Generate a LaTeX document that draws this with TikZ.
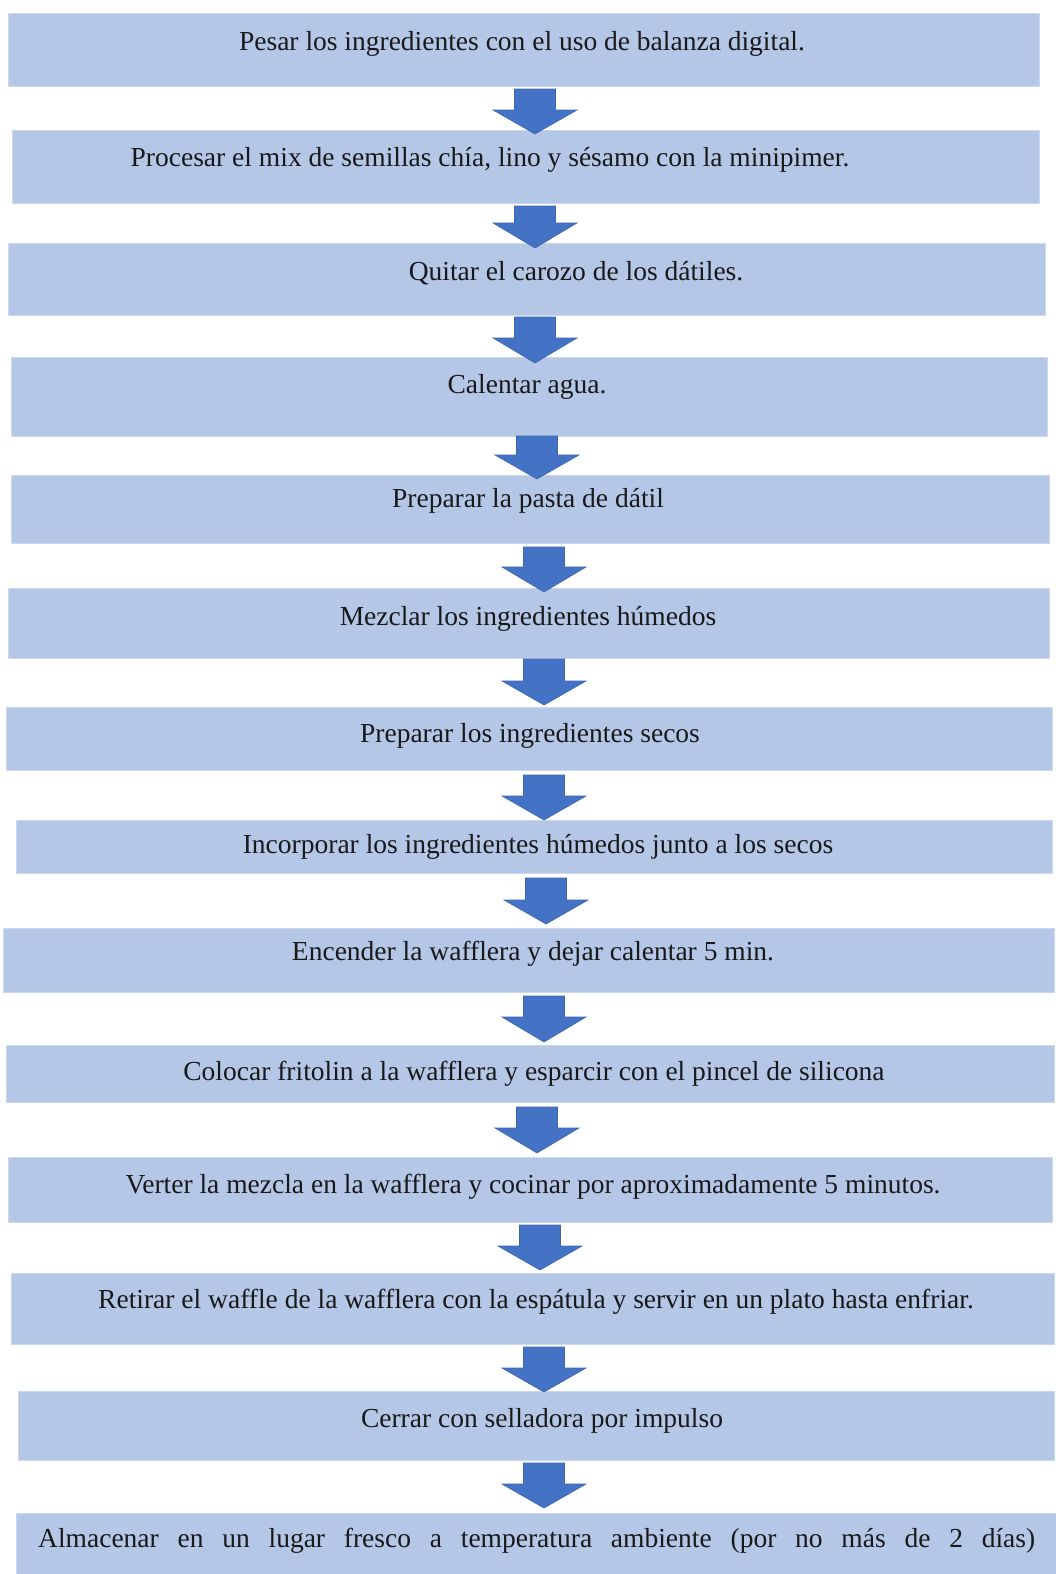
\documentclass[tikz,border=0pt]{standalone}
\usepackage{fontspec}
\setmainfont{Liberation Serif}
\definecolor{boxblue}{HTML}{B4C7E7}
\definecolor{arrowblue}{HTML}{4472C4}
\definecolor{arrowedge}{HTML}{3F66AE}
\tikzset{
  stepbox/.style={fill=boxblue, draw=boxblue!70!white, line width=0.8pt, inner sep=0pt, outer sep=0pt},
  lbl/.style={inner sep=0pt, font=\fontsize{27.5}{33}\selectfont, text=black!90},
  blockarrow/.style={fill=arrowblue, draw=arrowedge, line width=0.6pt, line join=miter}
}
\newcommand\mkbox[5]{\node[stepbox, minimum width={#4pt-#2pt}, minimum height={#5pt-#3pt}] (#1) at ({(#2+#4)/2},{(#3+#5)/2}) {};}
\newcommand\mkarrow[5]{\path[blockarrow] ({#2-20.5},#3) coordinate (#1s) -- ({#2+20.5},#3) -- ({#2+20.5},#4) -- ({#2+42},#4) -- (#2,#5) coordinate (#1t) -- ({#2-42},#4) -- ({#2-20.5},#4) -- cycle;}
\begin{document}
\begin{tikzpicture}[x=1pt,y=-1pt]
\useasboundingbox (0,0) rectangle (1055,1574);
\fill[white] (0,0) rectangle (1055,1574);
% boxes
\mkbox{b1}{8}{13}{1039}{86}
\mkbox{b2}{12}{130}{1039}{203}
\mkbox{b3}{8}{243}{1045}{315}
\mkbox{b4}{11}{357}{1047}{436}
\mkbox{b5}{11}{475}{1049}{543}
\mkbox{b6}{8}{588}{1049}{658}
\mkbox{b7}{6}{707}{1052}{770}
\mkbox{b8}{16}{820}{1052}{873}
\mkbox{b9}{3}{928}{1054}{992}
\mkbox{b10}{6}{1045}{1054}{1102}
\mkbox{b11}{8}{1157}{1052}{1222}
\mkbox{b12}{11}{1273}{1054}{1344}
\mkbox{b13}{18}{1391}{1054}{1460}
\mkbox{b14}{16}{1513}{1056}{1576}
% arrows
\mkarrow{a1}{535}{89}{110}{134}
\mkarrow{a2}{535}{206}{223}{248}
\mkarrow{a3}{535}{317}{338}{363}
\mkarrow{a4}{537}{436}{455}{479}
\mkarrow{a5}{544}{547}{567}{592}
\mkarrow{a6}{544}{659}{681}{705}
\mkarrow{a7}{544}{775}{796}{820}
\mkarrow{a8}{546}{878}{900}{924}
\mkarrow{a9}{544}{996}{1017}{1042}
\mkarrow{a10}{537}{1107}{1128}{1153}
\mkarrow{a11}{540}{1225}{1246}{1270}
\mkarrow{a12}{544}{1347}{1368}{1392}
\mkarrow{a13}{544}{1463}{1484}{1508}
% labels
\node[lbl, anchor=base] (t1) at (522,50) {Pesar los ingredientes con el uso de balanza digital.};
\node[lbl, anchor=base] (t2) at (490,166) {Procesar el mix de semillas chía, lino y sésamo con la minipimer.};
\node[lbl, anchor=base] (t3) at (576,280) {Quitar el carozo de los dátiles.};
\node[lbl, anchor=base] (t4) at (527,393) {Calentar agua.};
\node[lbl, anchor=base] (t5) at (528,507) {Preparar la pasta de dátil};
\node[lbl, anchor=base] (t6) at (528,625) {Mezclar los ingredientes húmedos};
\node[lbl, anchor=base] (t7) at (530,742) {Preparar los ingredientes secos};
\node[lbl, anchor=base] (t8) at (538,853) {Incorporar los ingredientes húmedos junto a los secos};
\node[lbl, anchor=base] (t9) at (533,960) {Encender la wafflera y dejar calentar 5 min.};
\node[lbl, anchor=base] (t10) at (534,1080) {Colocar fritolin a la wafflera y esparcir con el pincel de silicona};
\node[lbl, anchor=base] (t11) at (533,1193) {Verter la mezcla en la wafflera y cocinar por aproximadamente 5 minutos.};
\node[lbl, anchor=base] (t12) at (536,1308) {Retirar el waffle de la wafflera con la espátula y servir en un plato hasta enfriar.};
\node[lbl, anchor=base] (t13) at (542,1427) {Cerrar con selladora por impulso};
\node[lbl, anchor=base west] (t14) at (38,1547) {\makebox[997pt][s]{Almacenar en un lugar fresco a temperatura ambiente (por no más de 2 días)}};
\end{tikzpicture}
\end{document}
